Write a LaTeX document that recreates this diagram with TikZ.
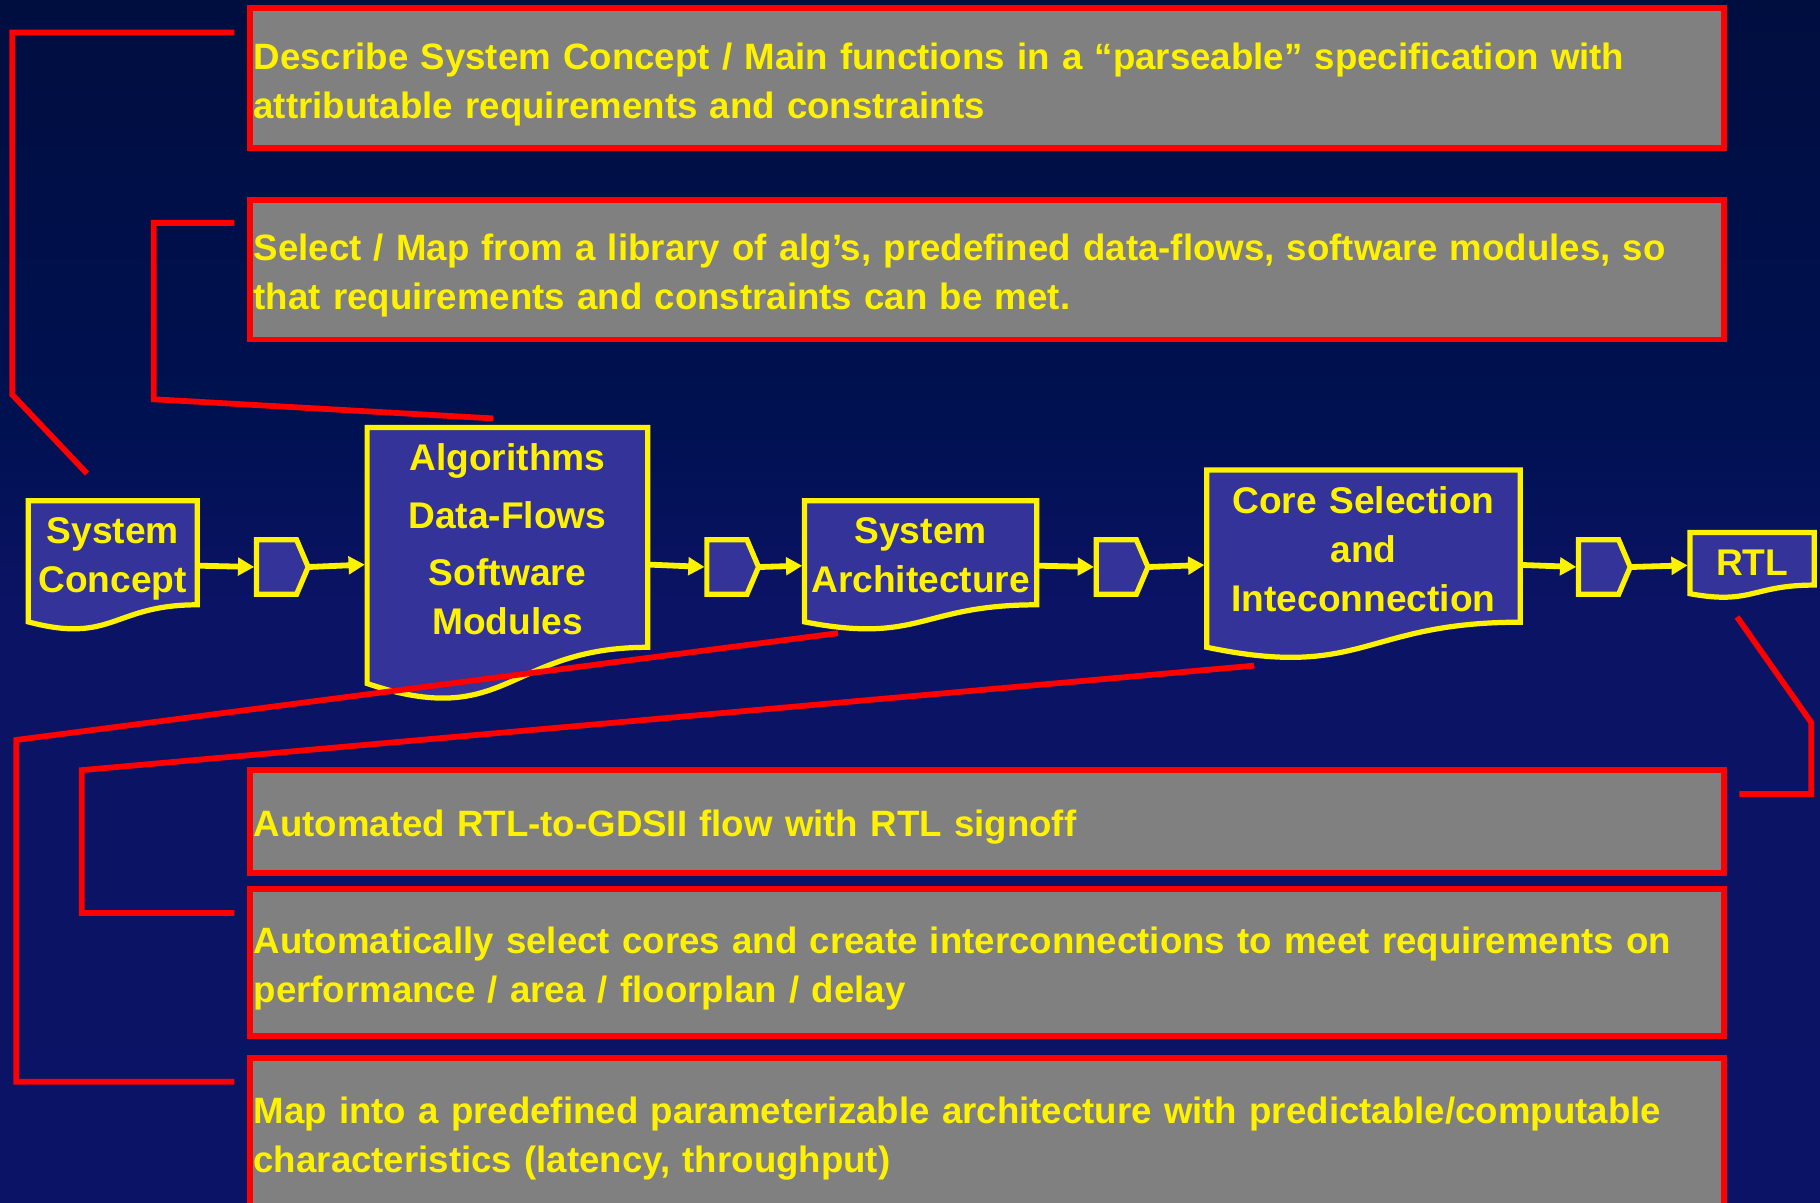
\documentclass[tikz,border=0pt]{standalone}
\usepackage{fontspec}
\setmainfont{Liberation Sans}
\usetikzlibrary{calc,arrows.meta}

\definecolor{bgtop}{RGB}{0,8,36}
\definecolor{bgmid}{RGB}{0,17,82}
\definecolor{bglow}{RGB}{11,19,100}
\definecolor{bgbot}{RGB}{12,20,104}
\definecolor{flowblue}{RGB}{51,51,153}
\definecolor{calloutgray}{RGB}{128,128,128}

\pgfdeclarelayer{back}
\pgfdeclarelayer{shapes}
\pgfsetlayers{back,shapes,main}

\pgfdeclareverticalshading{slidebg}{100bp}{color(0bp)=(bgbot); color(50bp)=(bglow); color(57bp)=(bgmid); color(100bp)=(bgtop)}

% flowchart "document" outline around a node
\newcommand\docoutline[1]{%
  \path[docshape] (#1.north west) -- (#1.north east)
    -- ($(#1.north east)!0.802!(#1.south east)$)
    .. controls ($(#1.north)!0.802!(#1.south)$) and ($(#1.north)!1.1075!(#1.south)$)
    .. ($(#1.north west)!0.934!(#1.south west)$) -- cycle;}

% small pointed tag between the stages
\newcommand\tagoutline[1]{%
  \path[docshape] (#1.north west) -- ($(#1.north east)+(-10,0)$) -- (#1.east)
    -- ($(#1.south east)+(-10,0)$) -- (#1.south west) -- cycle;}

\begin{document}
\begin{tikzpicture}[x=0.01cm, y=-0.01cm,
  callout/.style={draw=red, fill=calloutgray, line width=0.05cm, anchor=north west,
    outer sep=0pt, inner xsep=0.03cm, inner ysep=0pt, minimum width=12.69cm,
    text width=12.63cm, align=left, text=yellow,
    font=\fontsize{8.98}{11.95}\selectfont\bfseries,
    text height=0.23cm, text depth=0.38cm},
  oneline/.style={text height=0.25cm, text depth=0cm},
  flow/.style={anchor=north west, outer sep=0pt, inner sep=0pt, align=center,
    text=yellow, font=\fontsize{9.1}{11.95}\selectfont\bfseries, text height=0.23cm},
  tag/.style={anchor=north west, outer sep=0pt, inner sep=0pt,
    minimum width=0.445cm, minimum height=0.47cm},
  docshape/.style={draw=yellow, fill=flowblue, line width=0.045cm, line join=miter},
  flowarrow/.style={draw=yellow, line width=0.05cm,
    -{Triangle[length=0.14cm,width=0.15cm]}, shorten >=0.02cm},
  lead/.style={draw=red, line width=0.05cm, line join=miter}]

\useasboundingbox (0,0) rectangle (1568,1036);
\begin{pgfonlayer}{back}
  \shade[shading=slidebg] (0,0) rectangle (1568,1036);
\end{pgfonlayer}
\clip (0,0) rectangle (1568,1036);

% explanation boxes
\node[callout, minimum height=1.205cm] (b1) at (215.5,7)
  {Describe System Concept / Main functions in a “parseable” specification with\\attributable requirements and constraints};
\node[callout, minimum height=1.205cm] (b2) at (215.5,172)
  {Select / Map from a library of alg’s, predefined data-flows, software modules, so\\that requirements and constraints can be met.};
\node[callout, oneline, minimum height=0.885cm] (b3) at (215.5,663.5)
  {Automated RTL-to-GDSII flow with RTL signoff};
\node[callout, minimum height=1.265cm] (b4) at (215.5,766)
  {Automatically select cores and create interconnections to meet requirements on\\performance / area / floorplan / delay};
\node[callout, minimum height=1.285cm] (b5) at (215.5,911.5)
  {Map into a predefined parameterizable architecture with predictable/computable\\characteristics (latency, throughput)};

% design flow stages
\node[flow, minimum width=1.454cm, text width=1.454cm, minimum height=1.116cm, text depth=0.616cm]
  (sc) at (24.4,431.5) {System\\Concept};
\node[tag] (p1) at (221,465) {};
\node[flow, minimum width=2.416cm, text width=2.416cm, minimum height=2.36cm, text depth=1.856cm]
  (alg) at (316.3,368.3) {Algorithms\\[2.3pt]Data-Flows\\[2pt]Software\\Modules};
\node[tag] (p2) at (609,465) {};
\node[flow, minimum width=1.998cm, text width=1.998cm, minimum height=1.116cm, text depth=0.616cm]
  (sa) at (693.2,431.5) {System\\Architecture};
\node[tag] (p3) at (944.5,465) {};
\node[flow, minimum width=2.699cm, text width=2.699cm, minimum height=1.633cm, text depth=1.115cm]
  (core) at (1039.6,405) {Core Selection\\and\\Inteconnection};
\node[tag] (p4) at (1360,465) {};
\node[flow, minimum width=1.07cm, text width=1.07cm, minimum height=0.564cm, text depth=0.062cm]
  (rtl) at (1456,458.8) {RTL};

\begin{pgfonlayer}{shapes}
  \docoutline{sc}
  \docoutline{alg}
  \docoutline{sa}
  \docoutline{core}
  \docoutline{rtl}
  \tagoutline{p1}
  \tagoutline{p2}
  \tagoutline{p3}
  \tagoutline{p4}
\end{pgfonlayer}

% flow arrows
\draw[flowarrow] (sc.east) -- (p1.west);
\draw[flowarrow] (p1.east) -- (alg.west);
\draw[flowarrow] (alg.east) -- (p2.west);
\draw[flowarrow] (p2.east) -- (sa.west);
\draw[flowarrow] (sa.east) -- (p3.west);
\draw[flowarrow] (p3.east) -- (core.west);
\draw[flowarrow] (core.east) -- (p4.west);
\draw[flowarrow] (p4.east) -- (rtl.west);

% leader lines from the boxes to the stages
\coordinate (c1s) at (202,28);     \coordinate (c1e) at (75,408);
\coordinate (c2s) at (202,192);    \coordinate (c2e) at (425,360.5);
\coordinate (c3s) at (722,545.5);  \coordinate (c3e) at (202,932);
\coordinate (c4s) at (1080.5,573.5); \coordinate (c4e) at (202,786.5);
\coordinate (c5s) at (1496.5,531.5); \coordinate (c5e) at (1498.5,684);

\draw[lead] (c1s) -| (10.5,340) -- (c1e);
\draw[lead] (c2s) -| (132.5,344) -- (c2e);
\draw[lead] (c3s) -- (14,637.5) |- (c3e);
\draw[lead] (c4s) -- (70.5,663.5) |- (c4e);
\draw[lead] (c5s) -- (1560.5,622.5) |- (c5e);

\end{tikzpicture}
\end{document}
